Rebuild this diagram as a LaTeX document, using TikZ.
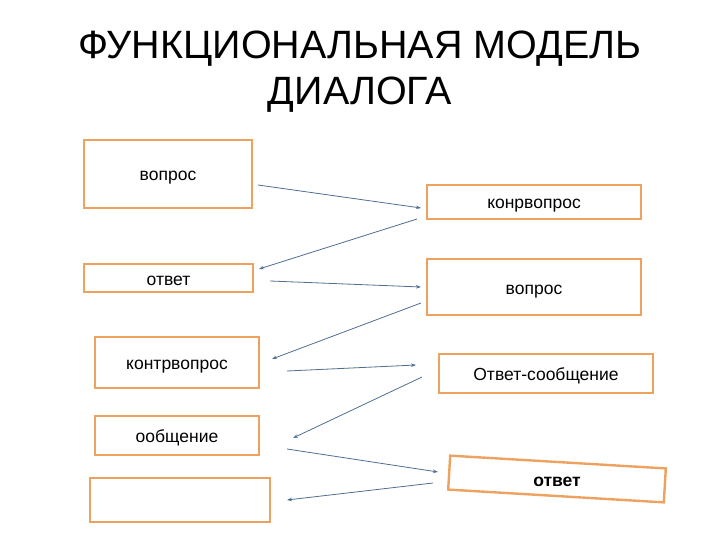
\documentclass[tikz,border=0pt]{standalone}
\usepackage{fontspec}
\setmainfont{Liberation Sans}
\usetikzlibrary{arrows.meta}
\definecolor{boxorange}{RGB}{238,162,96}
\definecolor{arrowblue}{RGB}{80,110,145}
\tikzset{
  box/.style={draw=boxorange, line width=2.4pt, rectangle, inner sep=0pt, font=\fontsize{17.5}{20}\selectfont, text height=15pt, text depth=1pt},
  conn/.style={draw=arrowblue, line width=0.8pt, -{Stealth[length=5pt,width=3.5pt]}},
}
\begin{document}
\begin{tikzpicture}[x=1pt,y=-1pt]
\useasboundingbox (0,0) rectangle (720,540);
\node[font=\fontsize{39.5}{46}\selectfont, align=center] (title) at (360,72) {ФУНКЦИОНАЛЬНАЯ МОДЕЛЬ\\ДИАЛОГА};
\node[box, minimum width=168pt, minimum height=68pt] (b1) at (168,174) {вопрос};
\node[box, minimum width=214pt, minimum height=34pt] (b2) at (534,202) {конрвопрос};
\node[box, minimum width=169pt, minimum height=28pt] (b3) at (168.5,278) {ответ};
\node[box, minimum width=214pt, minimum height=56pt] (b4) at (534,287) {вопрос};
\node[box, minimum width=164pt, minimum height=51pt] (b5) at (177,362.5) {контрвопрос};
\node[box, minimum width=214pt, minimum height=39pt] (b6) at (546,373.5) {Ответ-сообщение};
\node[box, minimum width=164pt, minimum height=39pt] (b7) at (177,435.5) {ообщение};
\node[box, minimum width=216pt, minimum height=34pt, rotate=-3.4] (b8) at (557,479) {};
\node[font=\fontsize{17.5}{20}\selectfont\bfseries, text height=15pt, text depth=1pt, inner sep=0pt] (b8t) at (557,479) {ответ};
\node[box, minimum width=180pt, minimum height=44pt] (b9) at (180,500) {};
% arrow endpoints
\coordinate (a1s) at (258,185); \coordinate (a1e) at (421,208);
\coordinate (a2s) at (417,219); \coordinate (a2e) at (259,269);
\coordinate (a3s) at (270,281); \coordinate (a3e) at (421,287);
\coordinate (a4s) at (421,303); \coordinate (a4e) at (272,359);
\coordinate (a5s) at (287,371); \coordinate (a5e) at (416,365);
\coordinate (a6s) at (422,377); \coordinate (a6e) at (293,438);
\coordinate (a7s) at (287,449); \coordinate (a7e) at (438,472);
\coordinate (a8s) at (433,483); \coordinate (a8e) at (287,500);
\draw[conn] (a1s) -- (a1e);
\draw[conn] (a2s) -- (a2e);
\draw[conn] (a3s) -- (a3e);
\draw[conn] (a4s) -- (a4e);
\draw[conn] (a5s) -- (a5e);
\draw[conn] (a6s) -- (a6e);
\draw[conn] (a7s) -- (a7e);
\draw[conn] (a8s) -- (a8e);
\end{tikzpicture}
\end{document}
